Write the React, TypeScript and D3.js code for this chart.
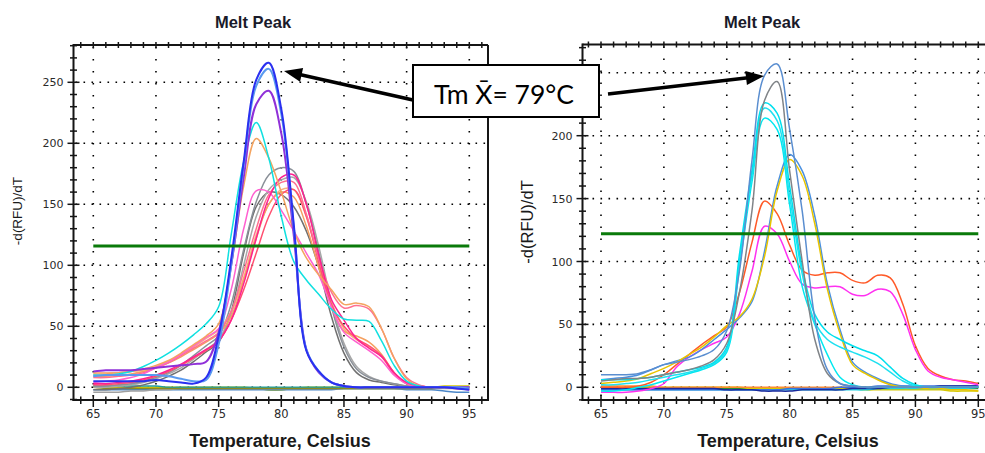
import React from 'react';
import * as d3 from 'd3';

// ---------- data ----------
const TEMPS = [65, 66, 67, 68, 69, 70, 71, 72, 73, 74, 75, 76, 77, 78, 79, 80, 81, 82, 83, 84, 85, 86, 87, 88, 89, 90, 91, 92, 93, 94, 95];
const X_TICK_LABELS = [65, 70, 75, 80, 85, 90, 95];
const Y_TICK_LABELS_LEFT = [0, 50, 100, 150, 200, 250];
const Y_TICK_LABELS_RIGHT = [0, 50, 100, 150, 200];
const Y_GRID = [0, 50, 100, 150, 200, 250];
const LEFT_THRESHOLD = 115.8;
const RIGHT_THRESHOLD = 122;
const CHART_TITLE = 'Melt Peak';
const X_TITLE = 'Temperature, Celsius';
const Y_TITLE = '-d(RFU)/dT';
const NOTE_TEXT = 'Tm X\u0304= 79°C';

// left panel – flat (no amplification) traces
const lfGreen = [0, 0, -1, -1, -1, -1, -1, -1, -1, -1, -1, -1, -1, -1, -2, -2, -1, -1, -1, -1, -1, -1, -1, -1, -1, -1, -1, 0, 0, 0, 0];
const lfYellow = [0, 0, 0, 0, 0, 0, 0, 0, 0, 0, 0, 0, 0, -1, -2, -2, -1, 0, 0, 0, 0, 0, 0, 0, 0, 0, 0, 0, 1, 1, 1];
const lfSteel = [-2, -2, -2, -2, -2, -2, -2, -2, -2, -2, -2, -2, -2, -2, -2, -2, -2, -2, -2, -2, -1, -1, -1, -1, -1, -2, -2, -2, -3, -4, -4];
const lfGray = [-4, -4, -4, -3, -3, -2, -2, -1, -1, -1, -1, -1, -1, -1, -1, -1, -1, -1, -1, -1, -1, -1, -1, -1, -1, -1, -1, -1, -1, -1, -1];
const lfTeal = [1, 1, 1, 1, 1, 1, 0, 0, 0, 0, 0, 0, 0, 0, 0, 0, 0, 0, 0, 0, 0, 0, 0, 0, 0, 0, 0, 0, 0, 0, 0];
const lfOlive = [0, -1, -1, -1, -1, -1, -1, -1, -1, -1, -1, -1, -1, -1, -1, -1, -1, -1, -1, -1, -1, -1, -1, -1, -1, -1, -1, -1, 0, 0, 0];

// left panel – melt peaks
const lBlue = [5, 5, 5, 5, 5, 6, 5, 4, 3, 8, 42, 105, 185, 252, 266, 228, 133, 30, 13, 4, 1, 0, 0, 0, 0, 0, 0, 0, 0, -1, -2];
const lCornflower = [9, 10, 10, 10, 10, 10, 9, 7, 5, 6, 35, 100, 182, 247, 261, 224, 131, 31, 13, 4, 1, 0, 0, 0, 0, 0, 0, 0, 0, 0, -1];
const lViolet = [13, 14, 14, 14, 15, 16, 17, 18, 19, 21, 45, 100, 172, 232, 243, 208, 124, 31, 12, 4, 1, 0, 0, 0, 0, 0, 0, 0, 0, 0, 0];
const lCyan = [10, 10, 11, 13, 17, 22, 28, 35, 43, 52, 66, 125, 185, 217, 188, 140, 103, 88, 76, 64, 56, 55, 54, 38, 18, 5, 1, 0, 0, 0, 0];
const lOrange = [11, 11, 12, 13, 15, 18, 22, 28, 35, 42, 52, 100, 165, 204, 188, 160, 128, 106, 92, 80, 68, 69, 66, 48, 24, 7, 1, 0, 0, 0, 0];
const lGray1 = [1, 1, 2, 3, 5, 8, 12, 18, 26, 34, 42, 68, 113, 152, 174, 180, 177, 150, 110, 66, 33, 15, 8, 5, 3, 1, 0, 0, 0, 0, 0];
const lGray2 = [0, 0, 1, 2, 4, 7, 11, 16, 23, 31, 39, 60, 100, 140, 162, 170, 172, 152, 115, 70, 36, 17, 9, 5, 3, 1, 0, 0, 0, 0, 0];
const lGray3 = [-2, -2, -1, 0, 2, 5, 9, 14, 21, 29, 37, 62, 110, 148, 160, 158, 148, 128, 98, 58, 28, 12, 6, 4, 2, 1, 0, 0, 0, 0, 0];
const lHotPink = [4, 5, 6, 8, 11, 16, 21, 27, 34, 41, 48, 80, 130, 161, 160, 145, 128, 110, 92, 66, 45, 37, 30, 22, 10, 3, 1, 0, 0, 0, 0];
const lDeepPink = [3, 3, 4, 5, 7, 10, 14, 19, 25, 31, 38, 55, 85, 122, 155, 172, 174, 150, 108, 72, 55, 40, 32, 25, 12, 4, 1, 0, 0, -1, -2];
const lSalmon = [8, 8, 9, 10, 12, 16, 20, 26, 32, 38, 45, 62, 95, 130, 158, 168, 168, 142, 105, 78, 65, 67, 64, 48, 24, 8, 2, 0, 0, 0, 0];
const lOrange2 = [9, 9, 10, 11, 13, 16, 20, 25, 31, 37, 44, 58, 88, 122, 150, 160, 156, 132, 98, 66, 46, 42, 37, 27, 12, 3, 1, 0, 0, 0, 0];
const lOrange3 = [12, 12, 12, 13, 14, 17, 21, 27, 33, 40, 47, 62, 90, 125, 150, 162, 162, 140, 104, 70, 48, 39, 33, 25, 11, 3, 1, 0, 0, 0, 0];
const lPinkRed = [2, 2, 3, 4, 6, 9, 13, 18, 24, 30, 38, 55, 80, 110, 140, 158, 162, 140, 102, 68, 50, 40, 34, 26, 12, 3, 1, 0, 0, -1, -1];

// right panel – flat traces
const rfNavy = [-1, -1, -1, -1, -1, -1, -1, -1, -1, -1, -2, -2, -2, -3, -3, -3, -2, -2, -2, -2, -1, -1, -1, 0, 0, 0, 0, 1, 1, 1, 1];
const rfCyan = [-2, -2, -2, -2, -2, -2, -2, -2, -2, -2, -2, -2, -2, -2, -2, -2, -2, -2, -2, -2, -2, -2, -1, -1, -1, -1, -1, -1, -1, -1, 0];
const rfYellow = [0, 0, 0, 0, 0, 0, 0, 0, 0, 0, 0, 0, -1, -1, -1, -1, -1, -1, -1, -1, -1, -2, -2, -2, -2, -2, -2, -2, -3, -3, -3];
const rfGreen = [-1, -1, -1, -1, -1, -1, -1, -1, -1, -1, -1, -1, -1, -1, -1, -1, -1, -1, -1, -1, -1, -1, -1, -1, -1, -1, -1, -1, -1, -1, -1];
const rfOrange = [1, 1, 1, 1, 1, 0, 0, 0, 0, 0, 0, 0, 0, 0, 0, 0, 0, 0, 0, 0, 0, 0, 0, 0, 0, 0, 0, 0, 0, 0, 0];
const rfBlue = [-2, -2, -2, -2, -2, -2, -2, -2, -2, -2, -2, -2, -2, -2, -2, -1, -1, -1, -1, 0, 0, 0, 1, 1, 1, 1, 1, 1, 1, 1, 1];

// right panel – melt peaks
const rSteel = [10, 10, 10, 11, 14, 18, 20, 22, 25, 30, 45, 92, 180, 248, 257, 205, 140, 55, 14, 3, 1, 0, 0, 0, 0, 0, 0, 0, 0, 0, 0];
const rGray = [5, 6, 7, 7, 8, 10, 12, 14, 17, 22, 35, 75, 140, 228, 243, 172, 100, 38, 11, 3, 1, 0, 0, 0, 0, 0, 0, 0, 0, 0, 0];
const rCyan1 = [6, 6, 6, 7, 8, 10, 12, 14, 16, 20, 32, 105, 172, 226, 218, 160, 95, 58, 44, 38, 33, 29, 25, 16, 7, 2, 0, 0, 0, 0, 0];
const rCyan2 = [2, 2, 3, 4, 6, 8, 10, 12, 15, 19, 30, 100, 168, 222, 212, 152, 90, 52, 38, 32, 28, 24, 19, 12, 5, 1, 0, 0, 0, 0, 0];
const rCyan3 = [-3, -3, -2, 0, 2, 5, 8, 11, 14, 18, 28, 95, 163, 214, 205, 145, 80, 50, 26, 8, 2, 0, 0, 0, 0, 0, 0, 0, 0, 0, 0];
const rBlue2 = [6, 7, 8, 10, 14, 18, 21, 24, 30, 38, 46, 55, 68, 108, 160, 185, 172, 136, 82, 46, 20, 12, 7, 3, 1, 0, 0, 0, 0, 0, 0];
const rGold = [3, 4, 5, 7, 11, 15, 20, 26, 32, 40, 49, 56, 70, 104, 156, 181, 168, 130, 78, 43, 18, 11, 6, 2, 0, 0, -1, -1, -2, -2, -3];
const rRed = [0, 0, 0, 1, 4, 10, 18, 26, 34, 41, 48, 75, 115, 148, 138, 113, 93, 89, 91, 91, 85, 83, 89, 87, 66, 33, 15, 9, 6, 5, 3];
const rMagenta = [-4, -4, -4, -3, -1, 3, 16, 24, 30, 35, 40, 58, 92, 128, 122, 100, 82, 79, 80, 80, 74, 73, 78, 76, 58, 30, 13, 8, 6, 4, 2];

type Curve = { v: number[]; c: string; w?: number };

const LEFT_CURVES: Curve[] = [
  { v: lfGreen, c: '#2e8b2e' },
  { v: lfYellow, c: '#d6c800' },
  { v: lfSteel, c: '#4a86c8' },
  { v: lfGray, c: '#a0a0a0' },
  { v: lfTeal, c: '#20a0a0' },
  { v: lfOlive, c: '#8a8a20' },
  { v: lGray3, c: '#707070' },
  { v: lGray2, c: '#a8a8a8' },
  { v: lGray1, c: '#8a9098' },
  { v: lOrange3, c: '#f8b080' },
  { v: lOrange2, c: '#f5a060' },
  { v: lPinkRed, c: '#ff5070' },
  { v: lSalmon, c: '#ff7090' },
  { v: lHotPink, c: '#ff60d0' },
  { v: lDeepPink, c: '#ff2090' },
  { v: lOrange, c: '#f4a460' },
  { v: lCyan, c: '#10e0e0' },
  { v: lViolet, c: '#9030d8', w: 2 },
  { v: lCornflower, c: '#5a9af0', w: 2 },
  { v: lBlue, c: '#2a30f0', w: 2 },
];

const RIGHT_CURVES: Curve[] = [
  { v: rfGreen, c: '#2e8b2e' },
  { v: rfYellow, c: '#d6c800' },
  { v: rfOrange, c: '#ff8c30' },
  { v: rfCyan, c: '#20d0e0' },
  { v: rfBlue, c: '#3a70e0' },
  { v: rfNavy, c: '#1a2a9c' },
  { v: rRed, c: '#ff5a28' },
  { v: rMagenta, c: '#ff30f0' },
  { v: rBlue2, c: '#4a90e0' },
  { v: rGold, c: '#e8c400' },
  { v: rCyan3, c: '#00e8f0' },
  { v: rCyan2, c: '#20e0f0' },
  { v: rCyan1, c: '#00e0ee' },
  { v: rGray, c: '#808488' },
  { v: rSteel, c: '#5a8ed0' },
];

// ---------- drawing ----------
type PanelProps = {
  frame: { l: number; t: number; r: number; b: number };
  xRange: [number, number];
  yDomain: [number, number];
  yRange: [number, number];
  curves: Curve[];
  threshold: number;
  yLabels: number[];
  titleX: number;
  xTitleX: number;
  yTitle: { x: number; y: number; size: number };
  clipId: string;
};

function Panel(p: PanelProps) {
  const { frame } = p;
  const x = d3.scaleLinear().domain([65, 95]).range(p.xRange);
  const y = d3.scaleLinear().domain(p.yDomain).range(p.yRange);
  const xMin = x.invert(frame.l);
  const xMax = x.invert(frame.r);
  const yMin = y.invert(frame.b);
  const yMax = y.invert(frame.t);
  const xMinor = d3.range(Math.ceil(xMin), Math.floor(xMax) + 1, 1);
  const yMinor = d3.range(Math.ceil(yMin / 10) * 10, yMax + 0.001, 10);
  const line = d3
    .line<number>()
    .x((_, i) => x(TEMPS[i]))
    .y((d) => y(d))
    .curve(d3.curveCatmullRom.alpha(0.5));
  const ink = '#151515';
  return (
    <g>
      <defs>
        <clipPath id={p.clipId}>
          <rect x={frame.l} y={frame.t} width={frame.r - frame.l} height={frame.b - frame.t} />
        </clipPath>
      </defs>
      {/* dotted grid */}
      {Y_GRID.filter((t) => y(t) > frame.t).map((t) => (
        <line key={'gy' + t} x1={frame.l + 2} x2={frame.r} y1={y(t)} y2={y(t)} stroke="#000" strokeWidth={1.6} strokeDasharray="1.6 6.4" />
      ))}
      {X_TICK_LABELS.map((t) => (
        <line key={'gx' + t} x1={x(t)} x2={x(t)} y1={frame.t + 2} y2={frame.b} stroke="#000" strokeWidth={1.6} strokeDasharray="1.6 10.4" />
      ))}
      {/* curves */}
      <g clipPath={`url(#${p.clipId})`}>
        {p.curves.map((c, i) => (
          <path key={i} d={line(c.v) || ''} fill="none" stroke={c.c} strokeWidth={c.w ?? 1.5} strokeLinejoin="round" />
        ))}
      </g>
      {/* threshold */}
      <line x1={x(65)} x2={x(95)} y1={y(p.threshold)} y2={y(p.threshold)} stroke="#0a7a0a" strokeWidth={3} />
      {/* frame */}
      <line x1={frame.l} x2={frame.r} y1={frame.t} y2={frame.t} stroke={ink} strokeWidth={2} />
      <line x1={frame.r} x2={frame.r} y1={frame.t} y2={frame.b} stroke={ink} strokeWidth={2} />
      <line x1={frame.l} x2={frame.l} y1={frame.t - 1} y2={frame.b + 1} stroke={ink} strokeWidth={2} />
      <line x1={frame.l - 1} x2={frame.r + 1} y1={frame.b} y2={frame.b} stroke={ink} strokeWidth={2} />
      {/* x ticks bottom and top */}
      {xMinor.map((t) => {
        const major = t % 5 === 0;
        return (
          <g key={'xt' + t}>
            <line x1={x(t)} x2={x(t)} y1={frame.b - (major ? 5 : 3.5)} y2={frame.b + (major ? 7 : 4)} stroke={ink} strokeWidth={1.5} />
            <line x1={x(t)} x2={x(t)} y1={frame.t - 3} y2={frame.t + 3} stroke={ink} strokeWidth={1.5} />
          </g>
        );
      })}
      {/* y ticks */}
      {yMinor.map((t) => {
        const major = Math.round(t) % 50 === 0;
        return (
          <line key={'yt' + t} x1={frame.l - (major ? 6 : 3.5)} x2={frame.l + (major ? 6 : 3.5)} y1={y(t)} y2={y(t)} stroke={ink} strokeWidth={1.5} />
        );
      })}
      {/* tick labels */}
      {p.yLabels.map((t) => (
        <text key={'yl' + t} x={frame.l - 10} y={y(t) + 4} textAnchor="end" fontFamily="DejaVu Sans, sans-serif" fontSize={11} fill="#2a2a2a">
          {t}
        </text>
      ))}
      {X_TICK_LABELS.map((t) => (
        <text key={'xl' + t} x={x(t)} y={frame.b + 18} textAnchor="middle" fontFamily="DejaVu Sans, sans-serif" fontSize={11.5} fill="#2a2a2a">
          {t}
        </text>
      ))}
      {/* titles */}
      <text x={p.titleX} y={28} textAnchor="middle" fontFamily="Liberation Sans, Arial, sans-serif" fontWeight="bold" fontSize={16.5} fill="#1a1a2a">
        {CHART_TITLE}
      </text>
      <text x={p.xTitleX} y={447} textAnchor="middle" fontFamily="Liberation Sans, Arial, sans-serif" fontWeight="bold" fontSize={18} fill="#1a1a1a">
        {X_TITLE}
      </text>
      <text
        transform={`translate(${p.yTitle.x},${p.yTitle.y}) rotate(-90)`}
        textAnchor="middle"
        dy="0.35em"
        fontFamily="Liberation Sans, Arial, sans-serif"
        fontSize={p.yTitle.size}
        fill="#1a1a1a"
      >
        {Y_TITLE}
      </text>
    </g>
  );
}

function Arrow({ x1, y1, x2, y2 }: { x1: number; y1: number; x2: number; y2: number }) {
  const dx = x2 - x1;
  const dy = y2 - y1;
  const len = Math.hypot(dx, dy);
  const ux = dx / len;
  const uy = dy / len;
  const hl = 18;
  const hw = 7;
  const bx = x2 - ux * hl;
  const by = y2 - uy * hl;
  const pts = [
    [x2, y2],
    [bx - uy * hw, by + ux * hw],
    [bx + uy * hw, by - ux * hw],
  ];
  return (
    <g>
      <line x1={x1} y1={y1} x2={bx + ux * 2} y2={by + uy * 2} stroke="#000" strokeWidth={3.5} />
      <polygon points={pts.map((q) => q.join(',')).join(' ')} fill="#000" />
    </g>
  );
}

export default function App() {
  return (
    <div style={{ position: 'absolute', left: 0, top: 0 }}>
      <svg width={985} height={453} style={{ display: 'block', background: '#fff' }}>
        <rect width={985} height={453} fill="#fff" />
        <Panel
          frame={{ l: 73.5, t: 45, r: 488, b: 400 }}
          xRange={[93.3, 469.3]}
          yDomain={[0, 250]}
          yRange={[387.3, 82.3]}
          curves={LEFT_CURVES}
          threshold={LEFT_THRESHOLD}
          yLabels={Y_TICK_LABELS_LEFT}
          titleX={253}
          xTitleX={280}
          yTitle={{ x: 17.5, y: 211, size: 13.5 }}
          clipId="clipL"
        />
        <Panel
          frame={{ l: 582.5, t: 44.5, r: 1000, b: 400 }}
          xRange={[601, 978.3]}
          yDomain={[0, 200]}
          yRange={[387.3, 135.7]}
          curves={RIGHT_CURVES}
          threshold={RIGHT_THRESHOLD}
          yLabels={Y_TICK_LABELS_RIGHT}
          titleX={762}
          xTitleX={788}
          yTitle={{ x: 527, y: 222, size: 16.5 }}
          clipId="clipR"
        />
        {/* annotation */}
        <Arrow x1={413} y1={100} x2={284} y2={71} />
        <Arrow x1={608} y1={94} x2={764} y2={76} />
        <rect x={413} y={65} width={186} height={52} fill="#fff" stroke="#000" strokeWidth={2} />
        <text x={504} y={104} textAnchor="middle" fontFamily="Lato, Carlito, sans-serif" fontSize={26.5} fill="#000">
          {NOTE_TEXT}
        </text>
      </svg>
    </div>
  );
}
